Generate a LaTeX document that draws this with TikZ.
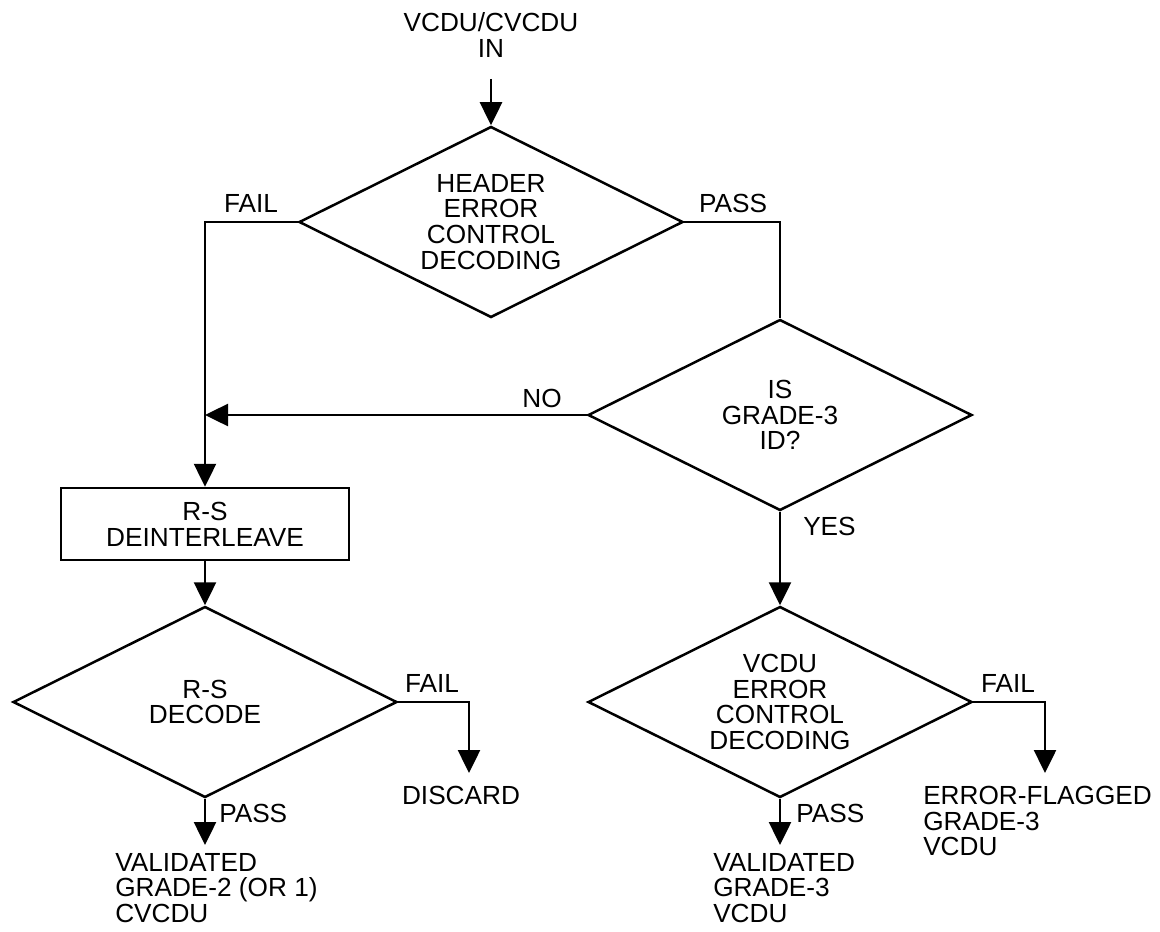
\documentclass[tikz,border=0pt]{standalone}
\usepackage{fontspec}
\setmainfont{Liberation Sans}
\usetikzlibrary{shapes.geometric,arrows.meta}

\begin{document}
\begin{tikzpicture}[x=0.5pt,y=-0.5pt,line width=1.25pt,
    every node/.style={font=\fontsize{13.1pt}{12.9pt}\selectfont,inner sep=0pt,align=center},
    decision/.style={draw,diamond,aspect=2,minimum width=192pt,minimum height=95.5pt},
    process/.style={draw,rectangle,minimum width=144pt,minimum height=36pt},
    arr/.style={-{Triangle[length=11.5pt,width=11pt]}}]
\useasboundingbox (0,0) rectangle (1160,931);
\node (in) at (491,35) {VCDU/CVCDU\\IN};
\coordinate (instart) at (491,79);
\node[decision] (header) at (491,222) {HEADER\\ERROR\\CONTROL\\DECODING};
\node[decision] (gradeid) at (780,415) {IS\\GRADE-3\\ID?};
\node[process] (deint) at (205,524) {R-S\\DEINTERLEAVE};
\node[decision] (rsdecode) at (205,702) {R-S\\DECODE};
\node[decision] (vcdudecode) at (780,702) {VCDU\\ERROR\\CONTROL\\DECODING};
\node[anchor=west,align=left] (rsvalid) at (114,888) {VALIDATED\\GRADE-2 (OR 1)\\CVCDU};
\node (discard) at (461,795) {DISCARD};
\node[anchor=west,align=left] (vvalid) at (712,888) {VALIDATED\\GRADE-3\\VCDU};
\node[anchor=west,align=left] (flagged) at (922,821) {ERROR-FLAGGED\\GRADE-3\\VCDU};
\coordinate (rsvalidtip) at (205,845);
\coordinate (discardtip) at (469,773);
\coordinate (vvalidtip) at (780,845);
\coordinate (flaggedtip) at (1045,773);
\node (hfail) at (251,203) {FAIL};
\node (hpass) at (733,203) {PASS};
\node (no) at (542,398) {NO};
\node[anchor=west] (yes) at (802,526) {YES};
\node (rsfail) at (432,683) {FAIL};
\node[anchor=west] (rspass) at (218,813) {PASS};
\node (vfail) at (1008,683) {FAIL};
\node[anchor=west] (vpass) at (795,813) {PASS};
\draw[arr] (instart) -- (header.north);
\draw[arr] (header.west) -| (deint.north);
\draw (header.east) -| (gradeid.north);
\draw[arr] (gradeid.west) -- (gradeid.west -| deint.north);
\draw[arr] (gradeid.south) -- (vcdudecode.north);
\draw[arr] (deint.south) -- (rsdecode.north);
\draw[arr] (rsdecode.south) -- (rsvalidtip);
\draw[arr] (rsdecode.east) -| (discardtip);
\draw[arr] (vcdudecode.south) -- (vvalidtip);
\draw[arr] (vcdudecode.east) -| (flaggedtip);
\end{tikzpicture}
\end{document}
